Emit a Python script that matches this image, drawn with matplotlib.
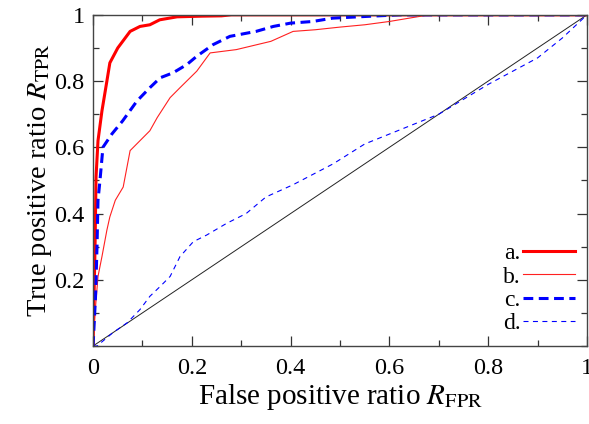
import matplotlib
matplotlib.use("Agg")
import matplotlib.pyplot as plt
from matplotlib.ticker import MultipleLocator, FixedLocator, FixedFormatter

plt.rcParams['font.family'] = ['Liberation Serif', 'DejaVu Serif']
plt.rcParams['mathtext.fontset'] = 'stix'

# Curve a (thick red)
a_x = [0.0, 0.004, 0.006, 0.010, 0.018, 0.028, 0.034, 0.05, 0.075, 0.095, 0.115, 0.135, 0.17, 0.22, 0.26, 0.28, 1.0]
a_y = [0.0, 0.30, 0.51, 0.62, 0.71, 0.80, 0.855, 0.90, 0.95, 0.965, 0.97, 0.985, 0.994, 0.996, 0.997, 1.0, 1.0]

# Curve b (thin red)
b_x = [0.0, 0.004, 0.010, 0.018, 0.028, 0.034, 0.045, 0.061, 0.075, 0.095, 0.115, 0.13, 0.156, 0.176, 0.21, 0.237, 0.29, 0.36, 0.405, 0.45, 0.50, 0.55, 0.60, 0.64, 0.68, 1.0]
b_y = [0.0, 0.10, 0.21, 0.27, 0.35, 0.39, 0.44, 0.48, 0.59, 0.62, 0.65, 0.69, 0.75, 0.78, 0.83, 0.885, 0.895, 0.92, 0.95, 0.955, 0.963, 0.97, 0.98, 0.99, 1.0, 1.0]

# Curve c (thick blue dashed)
c_x = [0.0, 0.005, 0.008, 0.010, 0.014, 0.020, 0.038, 0.06, 0.089, 0.115, 0.136, 0.162, 0.19, 0.21, 0.243, 0.277, 0.33, 0.365, 0.40, 0.445, 0.485, 0.55, 0.62, 1.0]
c_y = [0.0, 0.15, 0.30, 0.44, 0.50, 0.60, 0.64, 0.68, 0.74, 0.78, 0.81, 0.825, 0.85, 0.875, 0.91, 0.935, 0.95, 0.965, 0.975, 0.98, 0.99, 0.995, 1.0, 1.0]

# Curve d (thin blue dashed)
d_x = [0.0, 0.008, 0.04, 0.069, 0.095, 0.115, 0.136, 0.156, 0.176, 0.203, 0.23, 0.27, 0.31, 0.35, 0.405, 0.486, 0.55, 0.60, 0.70, 0.80, 0.90, 0.95, 1.0]
d_y = [0.0, 0.0, 0.04, 0.07, 0.11, 0.15, 0.18, 0.21, 0.27, 0.315, 0.335, 0.37, 0.40, 0.45, 0.487, 0.55, 0.61, 0.64, 0.70, 0.79, 0.87, 0.93, 1.0]

diag_x = [0.0, 1.0]
diag_y = [0.0, 1.0]

labels = ['a.', 'b.', 'c.', 'd.']
x_ticks = [0, 0.2, 0.4, 0.6, 0.8, 1]
x_ticklabels = ['0', '0.2', '0.4', '0.6', '0.8', '1']
y_ticks = [0.2, 0.4, 0.6, 0.8, 1]
y_ticklabels = ['0.2', '0.4', '0.6', '0.8', '1']

fig = plt.figure(figsize=(5.89, 4.24), dpi=100)
ax = fig.add_axes([0.158, 0.184, 0.8386, 0.781])

ax.plot(diag_x, diag_y, color='#222222', lw=0.7)
la, = ax.plot(a_x, a_y, color='#ff0000', lw=2.2, label=labels[0])
lb, = ax.plot(b_x, b_y, color='#ff2020', lw=0.8, label=labels[1])
lc, = ax.plot(c_x, c_y, color='#0000ff', lw=2.2, linestyle=(0, (3.2, 1.8)), label=labels[2])
ld, = ax.plot(d_x, d_y, color='#0000ff', lw=0.8, linestyle=(0, (4.5, 4)), label=labels[3])

ax.set_xlim(0, 1)
ax.set_ylim(0, 1)
ax.xaxis.set_major_locator(FixedLocator(x_ticks))
ax.xaxis.set_major_formatter(FixedFormatter(x_ticklabels))
ax.yaxis.set_major_locator(FixedLocator(y_ticks))
ax.yaxis.set_major_formatter(FixedFormatter(y_ticklabels))
ax.xaxis.set_minor_locator(MultipleLocator(0.1))
ax.yaxis.set_minor_locator(MultipleLocator(0.1))
ax.tick_params(which='both', direction='in', top=True, right=True, labelsize=17.5, color='#333333')
ax.tick_params(which='major', length=7, width=0.9)
ax.tick_params(which='minor', length=4, width=0.9)
ax.tick_params(axis='x', pad=9)
ax.tick_params(axis='y', pad=6)
for s in ax.spines.values():
    s.set_color('#444444')
    s.set_linewidth(1.0)

ax.set_xlabel(r'False positive ratio $R_{\mathrm{FPR}}$', fontsize=21, labelpad=2)
ax.set_ylabel(r'True positive ratio $R_{\mathrm{TPR}}$', fontsize=20.5, labelpad=0)

leg = ax.legend(handles=[la, lb, lc, ld], loc='lower right', bbox_to_anchor=(0.975, 0.035),
                frameon=False, markerfirst=False, fontsize=17, handlelength=2.2,
                handletextpad=0.1, labelspacing=0.08, borderaxespad=0, borderpad=0)

fig.savefig('out.png', dpi=100)
